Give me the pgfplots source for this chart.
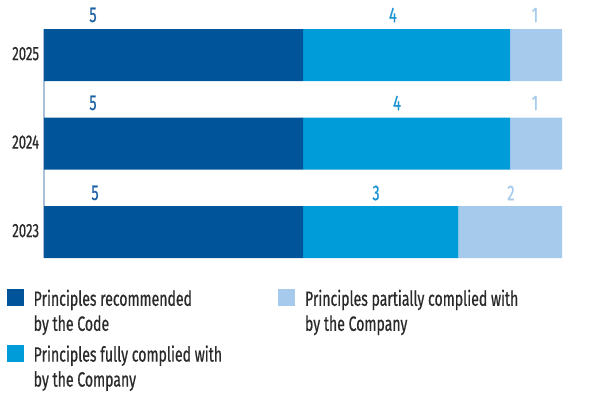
\documentclass[border=0pt]{standalone}
\usepackage{pgfplots}
\pgfplotsset{compat=1.18}
\usepackage{fontspec}
\setmainfont{Fira Sans}[FakeStretch=0.68, FakeBold=0.6]
\definecolor{cA}{HTML}{00559A}
\definecolor{cB}{HTML}{009CD9}
\definecolor{cC}{HTML}{A6CAEC}
\definecolor{tA}{HTML}{1F63A4}
\definecolor{tB}{HTML}{1A93D2}
\definecolor{tC}{HTML}{A6CAEC}
\definecolor{axl}{HTML}{A9C0D6}
\definecolor{txt}{HTML}{2A2A2A}
\begin{document}
\begin{tikzpicture}
\path[use as bounding box] (0pt,0pt) rectangle (450pt,-300pt);
\begin{axis}[
  at={(33pt,-193.5pt)}, anchor=south west,
  scale only axis, width=388.5pt, height=193.5pt,
  xmin=0, xmax=10, ymin=-0.2938, ymax=2.6215,
  xbar stacked, bar width=39pt,
  legend image code/.code={\fill[#1] (0pt,0.5pt) rectangle (12.5pt,-12.5pt);},
  clip=false,
  axis line style={draw=none},
  xtick=\empty,
  ytick={0,1,2}, yticklabels={2023,2024,2025},
  major tick length=0pt,
  yticklabel style={font=\fontsize{14.5}{18}\selectfont, text=txt, inner sep=0pt, xshift=-3.5pt, yshift=1pt},
  legend columns=2, transpose legend,
  legend style={draw=none, fill=none, inner sep=0pt, outer sep=0pt,
    at={(-0.0714,-0.1202)}, anchor=north west,
    column sep=7.5pt, row sep=9pt,
    nodes={inner sep=0pt, font=\fontsize{15.5}{18.75}\selectfont, text=txt},
    cells={anchor=north west, align=left}},
]
\addplot[fill=cA, draw=none] coordinates {(5,0) (5,1) (5,2)};
\addlegendentry{\makebox[176pt][l]{Principles recommended}\\by the Code}
\addplot[fill=cB, draw=none] coordinates {(3,0) (4,1) (4,2)};
\addlegendentry{\makebox[176pt][l]{Principles fully complied with}\\by the Company}
\addplot[fill=cC, draw=none] coordinates {(2,0) (1,1) (1,2)};
\addlegendentry{\makebox[176pt][l]{Principles partially complied with}\\by the Company}
\draw[axl, line width=1.1pt] (axis cs:0,-0.2938) -- (axis cs:0,2.294);
\node[text=tA, font=\fontsize{16}{18}\selectfont, inner sep=0pt] at (axis cs:0.946,2.452) {5};
\node[text=tB, font=\fontsize{16}{18}\selectfont, inner sep=0pt] at (axis cs:6.737,2.452) {4};
\node[text=tC, font=\fontsize{16}{18}\selectfont, inner sep=0pt] at (axis cs:9.479,2.452) {1};
\node[text=tA, font=\fontsize{16}{18}\selectfont, inner sep=0pt] at (axis cs:0.946,1.458) {5};
\node[text=tB, font=\fontsize{16}{18}\selectfont, inner sep=0pt] at (axis cs:6.815,1.458) {4};
\node[text=tC, font=\fontsize{16}{18}\selectfont, inner sep=0pt] at (axis cs:9.479,1.458) {1};
\node[text=tA, font=\fontsize{16}{18}\selectfont, inner sep=0pt] at (axis cs:0.985,0.441) {5};
\node[text=tB, font=\fontsize{16}{18}\selectfont, inner sep=0pt] at (axis cs:6.41,0.441) {3};
\node[text=tC, font=\fontsize{16}{18}\selectfont, inner sep=0pt] at (axis cs:9.015,0.441) {2};
\end{axis}
\end{tikzpicture}
\end{document}
